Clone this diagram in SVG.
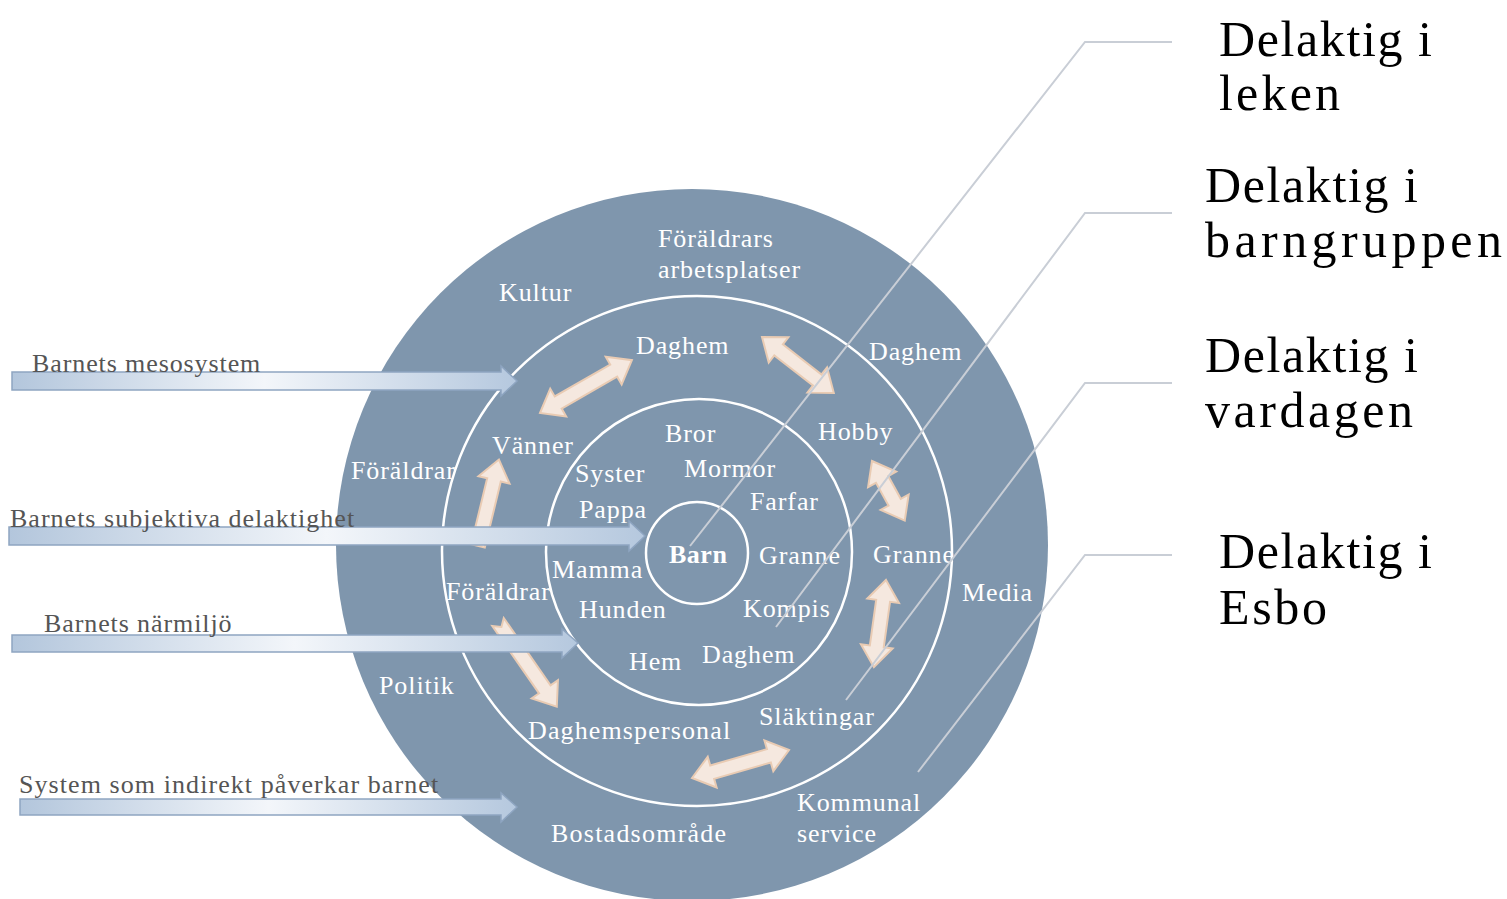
<svg xmlns="http://www.w3.org/2000/svg" width="1507" height="899" viewBox="0 0 1507 899">
<defs>
<linearGradient id="ag" x1="0" y1="0" x2="1" y2="0">
<stop offset="0" stop-color="#b3c6dc"/>
<stop offset="0.5" stop-color="#f3f6fa"/>
<stop offset="1" stop-color="#b5c8de"/>
</linearGradient>
</defs>
<style>
.ring{fill:none;stroke:#ffffff;stroke-width:2.5}
.lbl{font-family:"Liberation Serif",serif;font-size:26px;fill:#ffffff;letter-spacing:0.9px}
.side{font-family:"Liberation Serif",serif;font-size:26px;fill:#555555;letter-spacing:0.9px}
.big{font-family:"Liberation Serif",serif;font-size:50px;fill:#000000}
.la{fill:url(#ag);stroke:#8ea5c1;stroke-width:1.5}
.pa{fill:#f5e8df;stroke:#e9cbb3;stroke-width:2}
.con{fill:none;stroke:#c9ced6;stroke-width:2}
</style>
<rect width="1507" height="899" fill="#ffffff"/>

<g id="exosystem">
<circle cx="692" cy="545" r="356" fill="#7f96ad"/>
</g>
<g id="mesosystem">
<circle class="ring" cx="697" cy="551" r="255"/>
</g>
<g id="mikrosystem">
<circle class="ring" cx="699" cy="552" r="153"/>
</g>
<g id="barn">
<circle class="ring" cx="697" cy="553" r="51"/>
<text x="669" y="563" class="lbl" font-weight="bold" style="letter-spacing:0.5px">Barn</text>
</g>

<g id="peach-arrows">
<path class="pa" transform="translate(540,413) rotate(-29.9)" d="M0,0 L21,-16 L21,-7 L85,-7 L85,-16 L106,0 L85,16 L85,7 L21,7 L21,16 Z"/>
<path class="pa" transform="translate(762,337) rotate(37.9)" d="M0,0 L21,-16 L21,-7 L70,-7 L70,-16 L91,0 L70,16 L70,7 L21,7 L21,16 Z"/>
<path class="pa" transform="translate(478,546) rotate(-76.4)" d="M0,-7 L68,-7 L68,-16 L89,0 L68,16 L68,7 L0,7 Z"/>
<path class="pa" transform="translate(498,622) rotate(55.2)" d="M0,-7 L82,-7 L82,-16 L103,0 L82,16 L82,7 L0,7 L6,0 Z"/>
<path class="pa" transform="translate(872,461) rotate(61.2)" d="M0,0 L21,-16 L21,-7 L47,-7 L47,-16 L68,0 L47,16 L47,7 L21,7 L21,16 Z"/>
<path class="pa" transform="translate(886,580) rotate(97.9)" d="M0,0 L21,-16 L21,-7 L67,-7 L67,-16 L88,0 L67,16 L67,7 L21,7 L21,16 Z"/>
<path class="pa" transform="translate(692,778) rotate(-16.1)" d="M0,0 L21,-16 L21,-7 L80,-7 L80,-16 L101,0 L80,16 L80,7 L21,7 L21,16 Z"/>
</g>

<g id="labels">
<text x="658" y="247" class="lbl">Föräldrars</text>
<text x="658" y="278" class="lbl">arbetsplatser</text>
<text x="499" y="301" class="lbl">Kultur</text>
<text x="636" y="354" class="lbl">Daghem</text>
<text x="869" y="360" class="lbl">Daghem</text>
<text x="492" y="454" class="lbl">Vänner</text>
<text x="665" y="442" class="lbl">Bror</text>
<text x="575" y="482" class="lbl">Syster</text>
<text x="684" y="477" class="lbl">Mormor</text>
<text x="818" y="440" class="lbl">Hobby</text>
<text x="351" y="479" class="lbl">Föräldrar</text>
<text x="750" y="510" class="lbl">Farfar</text>
<text x="579" y="518" class="lbl">Pappa</text>
<text x="759" y="564" class="lbl">Granne</text>
<text x="873" y="563" class="lbl">Granne</text>
<text x="552" y="578" class="lbl">Mamma</text>
<text x="446" y="600" class="lbl">Föräldrar</text>
<text x="962" y="601" class="lbl">Media</text>
<text x="579" y="618" class="lbl">Hunden</text>
<text x="743" y="617" class="lbl">Kompis</text>
<text x="702" y="663" class="lbl">Daghem</text>
<text x="629" y="670" class="lbl">Hem</text>
<text x="379" y="694" class="lbl">Politik</text>
<text x="528" y="739" class="lbl" textLength="203">Daghemspersonal</text>
<text x="759" y="725" class="lbl">Släktingar</text>
<text x="797" y="811" class="lbl">Kommunal</text>
<text x="797" y="842" class="lbl">service</text>
<text x="551" y="842" class="lbl" textLength="176">Bostadsområde</text>
</g>

<g id="left-arrows">
<g id="arrow-mesosystem">
<path class="la" d="M12,372 L501,372 L501,366 L517,381 L501,396 L501,390 L12,390 Z"/>
<text x="32" y="372" class="side">Barnets mesosystem</text>
</g>
<g id="arrow-subjektiva">
<path class="la" d="M9,527 L629,527 L629,521 L645,536 L629,551 L629,545 L9,545 Z"/>
<text x="10" y="527" class="side" textLength="345">Barnets subjektiva delaktighet</text>
</g>
<g id="arrow-narmiljo">
<path class="la" d="M12,635 L562,635 L562,629 L578,643 L562,658 L562,652 L12,652 Z"/>
<text x="44" y="632" class="side">Barnets närmiljö</text>
</g>
<g id="arrow-indirekt">
<path class="la" d="M20,799 L501,799 L501,793 L517,807 L501,822 L501,815 L20,815 Z"/>
<text x="19" y="793" class="side" textLength="420">System som indirekt påverkar barnet</text>
</g>
</g>

<g id="connectors">
<polyline class="con" points="1172,42 1085,42 690,546"/>
<polyline class="con" points="1172,213 1085,213 776,627"/>
<polyline class="con" points="1172,383 1085,383 846,700"/>
<polyline class="con" points="1172,555 1085,555 918,772"/>
</g>

<g id="delaktig-leken">
<text x="1219" y="56" class="big" textLength="213">Delaktig i</text>
<text x="1219" y="110" class="big" textLength="121">leken</text>
</g>
<g id="delaktig-barngruppen">
<text x="1205" y="202" class="big" textLength="213">Delaktig i</text>
<text x="1205" y="257" class="big" textLength="297">barngruppen</text>
</g>
<g id="delaktig-vardagen">
<text x="1205" y="372" class="big" textLength="213">Delaktig i</text>
<text x="1205" y="427" class="big" textLength="208">vardagen</text>
</g>
<g id="delaktig-esbo">
<text x="1219" y="568" class="big" textLength="213">Delaktig i</text>
<text x="1219" y="624" class="big" textLength="108">Esbo</text>
</g>
</svg>
